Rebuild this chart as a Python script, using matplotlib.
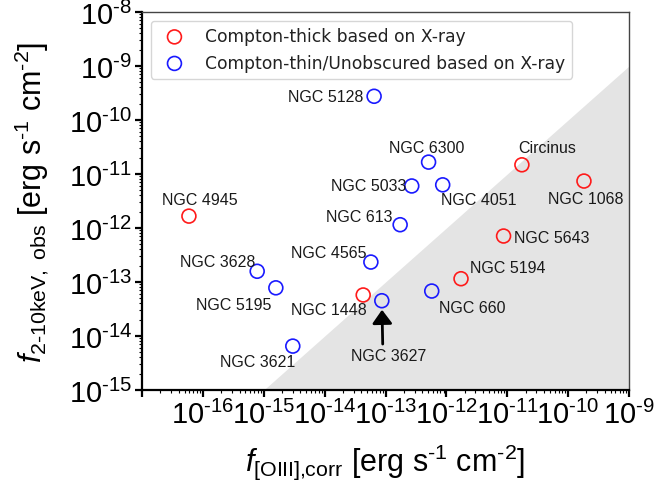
import matplotlib
matplotlib.use("Agg")
import matplotlib.pyplot as plt
import numpy as np
from matplotlib.ticker import LogLocator, FuncFormatter, NullFormatter

plt.rcParams["font.family"] = ["Liberation Sans", "DejaVu Sans"]
plt.rcParams["mathtext.fontset"] = "custom"
plt.rcParams["mathtext.rm"] = "Liberation Sans"
plt.rcParams["mathtext.it"] = "Liberation Sans:italic"
plt.rcParams["mathtext.bf"] = "Liberation Sans:bold"

# Compton-thick sources (X-ray classification)
thick_names = ["NGC 4945", "Circinus", "NGC 1068", "NGC 5643", "NGC 5194", "NGC 1448"]
thick_oiii = [5.9e-17, 1.74e-11, 1.82e-10, 8.7e-12, 1.74e-12, 4.3e-14]
thick_xray = [1.66e-12, 1.48e-11, 7.4e-12, 7.1e-13, 1.15e-13, 5.75e-14]

# Compton-thin / unobscured sources
thin_names = ["NGC 3628", "NGC 5195", "NGC 3621", "NGC 5128", "NGC 6300", "NGC 5033",
              "NGC 4051", "NGC 613", "NGC 4565", "NGC 3627", "NGC 660"]
thin_oiii = [7.8e-16, 1.58e-15, 3.0e-15, 6.5e-14, 5.1e-13, 2.7e-13,
             8.7e-13, 1.74e-13, 5.75e-14, 8.7e-14, 5.75e-13]
thin_xray = [1.58e-13, 7.8e-14, 6.5e-15, 2.75e-10, 1.66e-11, 6.0e-12,
             6.3e-12, 1.15e-12, 2.34e-13, 4.5e-14, 6.8e-14]

# ratio f_X / f_[OIII] below which a source lies in the shaded region
ratio_limit = 1.0

x_limits = (1e-17, 1e-9)
y_limits = (1e-15, 1e-8)

# label placement: (dx, dy) in pixels (dy positive = downwards) and alignment
label_layout = {
    "NGC 4945": (11, -17, "center"),
    "NGC 3628": (-2, -10, "right"),
    "NGC 5195": (-4, 17, "right"),
    "NGC 3621": (2, 15, "right"),
    "NGC 5128": (-11, 0, "right"),
    "NGC 6300": (-2, -15, "center"),
    "NGC 5033": (-5, 0, "right"),
    "NGC 4051": (-2, 15, "left"),
    "NGC 613": (-8, -8, "right"),
    "Circinus": (-4, -17, "left"),
    "NGC 1068": (2, 17, "center"),
    "NGC 5643": (10, 1, "left"),
    "NGC 4565": (-4, -10, "right"),
    "NGC 5194": (9, -11, "left"),
    "NGC 1448": (4, 15, "right"),
    "NGC 660": (7, 16, "left"),
}
arrow_source = "NGC 3627"

fig = plt.figure(figsize=(6.63, 4.81), dpi=100)
ax = fig.add_axes([142 / 663, 1 - 391 / 481, 487 / 663, 378 / 481])
ax.set_xscale("log")
ax.set_yscale("log")
ax.set_xlim(*x_limits)
ax.set_ylim(*y_limits)

# shaded region below the X-ray / [OIII] ratio line
xs = np.logspace(np.log10(x_limits[0]), np.log10(x_limits[1]), 200)
ax.fill_between(xs, y_limits[0], xs * ratio_limit, color="#e4e4e4", lw=0, zorder=0)

ms = 100
ax.scatter(thick_oiii, thick_xray, s=ms, facecolors="none", edgecolors="#ff1a1a",
           linewidths=1.2, zorder=3, label="Compton-thick based on X-ray")
ax.scatter(thin_oiii, thin_xray, s=ms, facecolors="none", edgecolors="#1a1aff",
           linewidths=1.2, zorder=3, label="Compton-thin/Unobscured based on X-ray")

px2pt = 0.72
txt_kw = dict(fontsize=11.5, color="#1a1a1a", va="center", zorder=4)
for names, xv, yv in ((thick_names, thick_oiii, thick_xray),
                      (thin_names, thin_oiii, thin_xray)):
    for n, x, y in zip(names, xv, yv):
        if n in label_layout:
            dx, dy, ha = label_layout[n]
            ax.annotate(n, (x, y), xytext=(dx * px2pt, -dy * px2pt),
                        textcoords="offset points", ha=ha, **txt_kw)
        elif n == arrow_source:
            ax.annotate(n, (x, y), xytext=(7 * px2pt, -55 * px2pt),
                        textcoords="offset points", ha="center", **txt_kw,
                        arrowprops=dict(arrowstyle="-|>,head_width=0.4,head_length=0.55",
                                        mutation_scale=15, color="black", lw=2,
                                        shrinkA=1, shrinkB=6.5, relpos=(0.42, 1.0)))

# axes styling
for side in ("left", "bottom"):
    ax.spines[side].set_linewidth(1.6)
    ax.spines[side].set_color("black")
for side in ("top", "right"):
    ax.spines[side].set_linewidth(1.0)
    ax.spines[side].set_color("#444444")

def sci_x(v, pos):
    e = int(round(np.log10(v)))
    if e <= int(round(np.log10(x_limits[0]))):
        return ""
    return r"$\mathregular{10^{\text{-}%d}}$" % (-e)

def sci_y(v, pos):
    e = int(round(np.log10(v)))
    return r"$\mathregular{10^{\text{-}%d}}$" % (-e)

ax.xaxis.set_major_locator(LogLocator(base=10, numticks=20))
ax.yaxis.set_major_locator(LogLocator(base=10, numticks=20))
ax.xaxis.set_minor_locator(LogLocator(base=10, subs=np.arange(2, 10), numticks=20))
ax.yaxis.set_minor_locator(LogLocator(base=10, subs=np.arange(2, 10), numticks=20))
ax.xaxis.set_major_formatter(FuncFormatter(sci_x))
ax.yaxis.set_major_formatter(FuncFormatter(sci_y))
ax.xaxis.set_minor_formatter(NullFormatter())
ax.yaxis.set_minor_formatter(NullFormatter())
ax.tick_params(which="major", direction="out", length=5, width=1.6, labelsize=21,
               pad=2, top=False, right=False)
ax.tick_params(which="minor", direction="out", length=2.5, width=0.8,
               top=False, right=False)

ax.set_xlabel(r"$f_{\mathregular{[OIII]{,}corr}}$ [erg s$^{\mathregular{\text{-}1}}$ cm$^{\mathregular{\text{-}2}}$]",
              fontsize=22, labelpad=9)
ax.set_ylabel(r"$f_{\mathregular{2\text{-}10keV,\ obs}}$ [erg s$^{\mathregular{\text{-}1}}$ cm$^{\mathregular{\text{-}2}}$]",
              fontsize=22, labelpad=13)

leg = ax.legend(loc="upper left", prop={"family": "DejaVu Sans", "size": 12.3},
                frameon=True, borderaxespad=0.5)
leg.get_frame().set_edgecolor("#cccccc")
for t in leg.get_texts():
    t.set_color("#222222")

fig.savefig("out.png", dpi=100)
